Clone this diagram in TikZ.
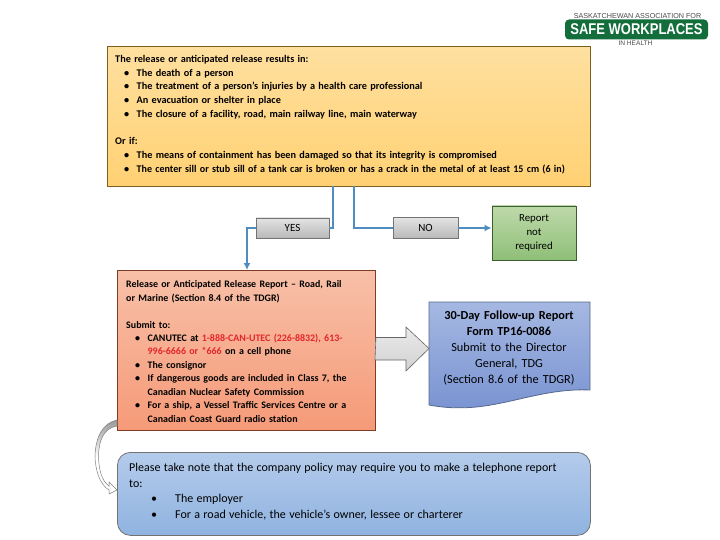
\documentclass[tikz,border=0pt]{standalone}
\usepackage{fontspec}
\setmainfont{Carlito}
\usetikzlibrary{arrows.meta}
\definecolor{conn}{HTML}{4F8CBF}
\definecolor{redtxt}{HTML}{E3262A}
\newlength{\bloff}\setlength{\bloff}{7.5pt}
\newcommand{\bl}[2][21.5pt]{\par\noindent\hspace*{#1}\llap{\textbullet\hspace{\bloff}}#2}
\newcommand{\cl}[2][21.5pt]{\par\noindent\hspace*{#1}#2}
\tikzset{
 x=1pt,y=-1pt,
 txt/.style={inner sep=0pt,anchor=north west,align=left},
 link/.style={draw=conn,line width=2pt},
 tip/.style={-{Latex[length=7pt,width=7pt]}},
 graybox/.style={draw=black!55,line width=.7pt,top color=gray!22,bottom color=gray!55,inner sep=0pt,font=\fontsize{11}{12}\selectfont},
}
\begin{document}
\begin{tikzpicture}
\useasboundingbox (0,0) rectangle (720,540);
\fill[white] (0,0) rectangle (720,540);
% logo
\node[fill={rgb,255:red,20;green,110;blue,60},rounded corners=4pt,minimum width=143pt,minimum height=20pt,inner sep=0pt] (logo) at (636.5,29.5) {\textcolor{white}{\fontspec{Liberation Sans}\bfseries\fontsize{13}{13}\selectfont\scalebox{1.0}[1.2]{SAFE WORKPLACES}}};
\node[inner sep=0pt,font=\fontspec{Liberation Sans}\fontsize{7.2}{8}\selectfont,text=black!70] (logoa) at (637.5,16) {SASKATCHEWAN ASSOCIATION FOR};
\node[inner sep=0pt,font=\fontspec{Liberation Sans}\fontsize{6.6}{7}\selectfont,text=black!70] (logob) at (635.5,43.5) {IN HEALTH};
% orange box
\node[draw={rgb,255:red,125;green,95;blue,30},line width=.9pt,top color={rgb,255:red,255;green,224;blue,160},bottom color={rgb,255:red,255;green,209;blue,115},minimum width=483pt,minimum height=140pt,anchor=north west,inner sep=0pt] (cond) at (107,46) {};
\node[txt,text width=470pt] (condt) at (115,55) {\bfseries\fontsize{10.25}{13.7}\selectfont
The release or anticipated release results in:
\bl{The death of a person}
\bl{The treatment of a person’s injuries by a health care professional}
\bl{An evacuation or shelter in place}
\bl{The closure of a facility, road, main railway line, main waterway}
\par\mbox{}\par\noindent Or if:
\bl{The means of containment has been damaged so that its integrity is compromised}
\bl{\scalebox{.98}[1]{The center sill or stub sill of a tank car is broken or has a crack in the metal of at least 15 cm (6 in)}}\par};
% yes / no
\node[graybox,minimum width=73pt,minimum height=20pt] (yes) at (292.5,228) {YES};
\node[graybox,minimum width=65pt,minimum height=21pt] (no) at (425.5,228) {NO};
\node[draw={rgb,255:red,60;green,95;blue,45},line width=.9pt,top color={rgb,255:red,190;green,217;blue,170},bottom color={rgb,255:red,143;green,191;blue,120},minimum width=84pt,minimum height=54pt,inner sep=0pt,align=center,font=\fontsize{10.8}{14}\selectfont] (green) at (534,233) {Report\\not\\required};
% report box
\node[draw={rgb,255:red,125;green,60;blue,35},line width=.9pt,top color={rgb,255:red,247;green,192;blue,168},bottom color={rgb,255:red,246;green,154;blue,120},minimum width=258pt,minimum height=160pt,anchor=north west,inner sep=0pt] (rep) at (117,270) {};
\node[txt,text width=240pt] (rept) at (126,280.5) {\bfseries\fontsize{9.95}{13.45}\selectfont
Release or Anticipated Release Report – Road, Rail\par\noindent or Marine (Section 8.4 of the TDGR)
\par\mbox{}\par\noindent Submit to:
\bl{CANUTEC at \textcolor{redtxt}{1-888-CAN-UTEC (226-8832), 613-}}
\cl{\textcolor{redtxt}{996-6666 or *666} on a cell phone}
\bl{The consignor}
\bl{If dangerous goods are included in Class 7, the}
\cl{Canadian Nuclear Safety Commission}
\bl{For a ship, a Vessel Traffic Services Centre or a}
\cl{Canadian Coast Guard radio station}\par};
% follow-up document
\coordinate (docnw) at (429,302);
\coordinate (docne) at (590,302);
\coordinate (docse) at (590,390);
\coordinate (docsw) at (429,405);
\draw[draw={rgb,255:red,85;green,105;blue,140},line width=.8pt,top color={rgb,255:red,165;green,184;blue,226},bottom color={rgb,255:red,122;green,148;blue,210}]
 (docnw) -- (docne) -- (docse) .. controls (545,388) and (510,405) .. (470,407.5) .. controls (452,408.5) and (440,407) .. (docsw) -- cycle;
\node[inner sep=0pt,align=center,text width=160pt,font=\fontsize{12.3}{15.8}\selectfont] (doct) at (509,348) {\textbf{30-Day Follow-up Report}\\\textbf{Form TP16-0086}\\Submit to the Director\\General, TDG\\(Section 8.6 of the TDGR)};
% big arrow
\coordinate (ba) at (rep.east |- 0,348.5);
\draw[draw=black!60,line width=.6pt,top color=black!8,bottom color=black!18] (ba) ++(0,-11) -- (406,337.5) -- (406,327) -- (429,348.5) -- (406,371) -- (406,360) -- (375,360) -- cycle;
% note
\node[draw=black!55,line width=.8pt,rounded corners=13pt,top color={rgb,255:red,180;green,203;blue,235},bottom color={rgb,255:red,143;green,179;blue,224},minimum width=473pt,minimum height=83pt,anchor=north west,inner sep=0pt] (note) at (117,452) {};
\node[txt,text width=458pt] (notet) at (129,463) {\fontsize{12}{15.6}\selectfont\setlength{\bloff}{18pt}%
Please take note that the company policy may require you to make a telephone report\par\noindent to:
\bl[46pt]{The employer}
\bl[46pt]{For a road vehicle, the vehicle’s owner, lessee or charterer}\par};
% connectors
\coordinate (a1) at (333,186);
\coordinate (a2) at (354,186);
\coordinate (a3) at (247,270);
\draw[link] (a1) |- (yes.east);
\draw[link,tip] (yes.west) -| (a3);
\draw[link] (a2) |- (no.west);
\draw[link,tip] (no.east) -- (green.west |- no.east);
% curved hollow arrow
\draw[draw=black!50,line width=.5pt,top color=black!40,bottom color=white,middle color=white]
 (117,426) .. controls (104,428) and (99,440) .. (98.5,455) .. controls (98.5,470) and (102,481) .. (109,486)
 -- (109,482) -- (117,490) -- (109,494) -- (109,490) .. controls (100,485) and (95,470) .. (95,455)
 .. controls (96,436) and (103,423) .. (117,420) -- cycle;
\end{tikzpicture}
\end{document}
